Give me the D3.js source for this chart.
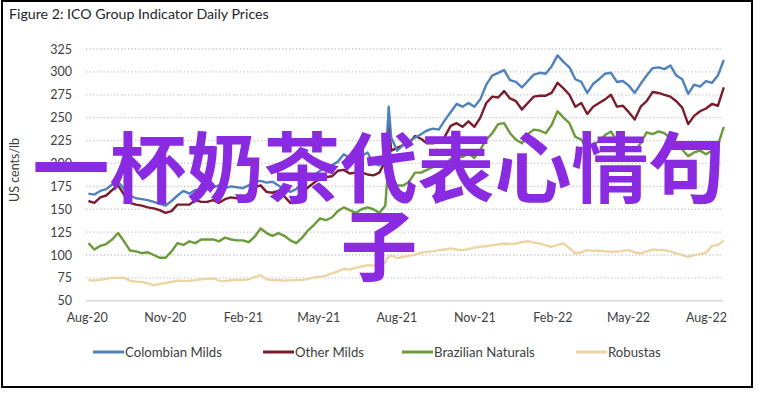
<!DOCTYPE html>
<html><head><meta charset="utf-8">
<script src="https://cdn.jsdelivr.net/npm/d3@7/dist/d3.min.js"></script>
<style>body{margin:0;background:#fff}svg{display:block}</style>
</head><body><svg id="c" width="758" height="393"></svg>
<script>
const dates = [
"2020-08-03","2020-08-10","2020-08-17","2020-08-24","2020-08-31","2020-09-07","2020-09-14","2020-09-21","2020-09-28","2020-10-05",
"2020-10-12","2020-10-19","2020-10-26","2020-11-02","2020-11-09","2020-11-16","2020-11-23","2020-11-30","2020-12-07","2020-12-14",
"2020-12-21","2020-12-28","2021-01-04","2021-01-11","2021-01-18","2021-01-25","2021-02-01","2021-02-08","2021-02-15","2021-02-22",
"2021-03-01","2021-03-08","2021-03-15","2021-03-22","2021-03-29","2021-04-05","2021-04-12","2021-04-19","2021-04-26","2021-05-03",
"2021-05-10","2021-05-17","2021-05-24","2021-05-31","2021-06-07","2021-06-14","2021-06-21","2021-06-28","2021-07-05","2021-07-12",
"2021-07-19","2021-07-21","2021-07-23",
"2021-07-26","2021-08-02","2021-08-09","2021-08-16","2021-08-23","2021-08-30","2021-09-06","2021-09-13","2021-09-20",
"2021-09-27","2021-10-04","2021-10-11","2021-10-18","2021-10-25","2021-11-01","2021-11-08","2021-11-15","2021-11-22","2021-11-29",
"2021-12-06","2021-12-13","2021-12-20","2021-12-27","2022-01-03","2022-01-10","2022-01-17","2022-01-24","2022-01-31","2022-02-07",
"2022-02-14","2022-02-21","2022-02-28","2022-03-07","2022-03-14","2022-03-21","2022-03-28","2022-04-04","2022-04-11","2022-04-18",
"2022-04-25","2022-05-02","2022-05-09","2022-05-16","2022-05-23","2022-05-30","2022-06-06","2022-06-13","2022-06-20","2022-06-27",
"2022-07-04","2022-07-11","2022-07-18","2022-07-25","2022-08-01","2022-08-08","2022-08-15","2022-08-22"];

const colombianMilds = [
167,166,170,172,177,180,172,165,162,161,
160,158,156,154,159,165,170,167,171,170,
172,174,176,173,175,174,173,176,180,181,
179,180,176,172,169,172,178,183,187,192,
196,198,202,210,206,204,208,212,200,198,
202,230,262,
228,214,220,224,228,232,236,238,237,
247,256,265,262,266,262,270,286,296,299,
302,291,289,283,290,297,299,298,306,318,
311,305,292,289,277,287,292,298,299,289,
290,285,277,287,296,304,305,303,307,296,
292,276,286,284,290,288,296,313];

const otherMilds = [
159,157,163,165,171,176,166,157,155,154,
152,151,149,146,148,155,155,155,160,158,
158,160,157,161,163,162,164,166,174,176,
169,168,170,164,157,163,168,174,179,184,
185,186,192,193,189,190,190,188,187,190,
203,225,244,
214,217,220,222,230,227,222,222,224,
229,241,244,240,246,240,250,266,273,272,
279,271,268,259,266,273,274,274,277,288,
282,275,262,266,254,262,266,270,275,262,
263,256,248,262,268,278,277,275,273,268,
261,243,252,257,260,265,263,283];

const brazilianNaturals = [
113,106,110,112,117,124,115,105,104,102,
103,100,97,97,104,113,111,115,113,117,
117,117,115,119,117,116,116,114,120,129,
124,121,124,121,116,113,119,127,133,140,
138,141,148,152,149,146,150,152,150,146,
154,180,198,
184,176,176,180,190,190,193,196,200,
198,205,210,207,211,206,215,226,233,243,
244,233,226,222,232,237,236,233,242,257,
250,244,229,226,216,221,224,231,235,224,
218,214,214,222,234,232,235,233,227,222,
215,208,212,214,210,214,220,240];

const robustas = [
72.6,72,73,74,75,75,75,72,71,70.5,
69,67,68.5,69.5,70.5,72,71.5,72,72.5,73.5,
74,74.4,72,71.5,72.5,73,72.6,73.5,76,78,
73.5,72.6,72.5,72,72.3,72.6,73,74,75.5,76.2,
77.5,79.9,82,85,84,86,87.5,89,88.5,89,
92,96,98,
99.5,96.5,98,99,100.5,102.5,103.5,104,105.3,
106,107.2,106,105.3,106.5,108,109,109.5,110.8,111.5,
112.6,112,112.6,114,115,113.5,112.6,110.5,109,111,
112.6,107.5,101.7,103,105.3,104.5,104.6,104,103.5,103.5,
104.5,105.3,103,101.7,104,106,105.5,105.3,104,101.7,
100,98,99.9,101,102.5,110,111,116];

const seriesNames = ["Colombian Milds","Other Milds","Brazilian Naturals","Robustas"];
const seriesColors = ["#4F81BD","#7B1C2C","#6A9A3A","#EDD4A4"];
const yTicks = [50,75,100,125,150,175,200,225,250,275,300,325];
const xTickDates = ["2020-08-01","2020-11-01","2021-02-01","2021-05-01","2021-08-01","2021-11-01","2022-02-01","2022-05-01","2022-08-01"];
const titleText = "Figure 2: ICO Group Indicator Daily Prices";
const yAxisTitle = "US cents/lb";
const overlayLines = ["一杯奶茶代表心情句","子"];

const parse = d3.timeParse("%Y-%m-%d");
const allSeries = [colombianMilds, otherMilds, brazilianNaturals, robustas];
const svg = d3.select("#c");
const font = "Lato, 'Open Sans', sans-serif";

// frame
svg.append("rect").attr("x",2).attr("y",1).attr("width",750).attr("height",386)
  .attr("fill","#fff").attr("stroke","#000").attr("stroke-width",2);

svg.append("text").attr("x",9).attr("y",19).attr("font-family",font).attr("font-size",14.2)
  .attr("fill","#262626").text(titleText);

const x = d3.scaleTime().domain([parse("2020-08-01"), parse("2022-08-01")]).range([86.7, 706]);
const y = d3.scaleLinear().domain([50,325]).range([300.8, 49]);
const plotL = 86, plotR = 723;

// gridlines
const grid = svg.append("g");
grid.selectAll("line").data(yTicks.filter(t => t > 50)).join("line")
  .attr("x1", plotL).attr("x2", plotR)
  .attr("y1", d => y(d)).attr("y2", d => y(d))
  .attr("stroke","#c8c8c8").attr("stroke-width",1.3).attr("stroke-dasharray","1.3,2.2");

// y axis labels
const yAxis = d3.axisLeft(y).tickValues(yTicks).tickSize(0).tickPadding(0);
const ya = svg.append("g").attr("transform","translate(72,0)").call(yAxis);
ya.select(".domain").remove();
ya.selectAll("text").attr("font-family",font).attr("font-size",12.5).attr("fill","#404040");

// x axis line
svg.append("line").attr("x1",plotL).attr("x2",plotR).attr("y1",y(50)).attr("y2",y(50))
  .attr("stroke","#d9d9d9").attr("stroke-width",1.5);

const xAxis = d3.axisBottom(x).tickValues(xTickDates.map(parse)).tickFormat(d3.timeFormat("%b-%y")).tickSize(0).tickPadding(0);
const xa = svg.append("g").attr("transform","translate(0,313)").call(xAxis);
xa.select(".domain").remove();
xa.selectAll("text").attr("font-family",font).attr("font-size",12.5).attr("fill","#404040");

svg.append("text").attr("transform","translate(19,170) rotate(-90)").attr("text-anchor","middle")
  .attr("font-family",font).attr("font-size",12.5).attr("fill","#404040").text(yAxisTitle);

// lines
const line = d3.line().x((d,i) => x(parse(dates[i]))).y(d => y(d));
svg.append("g").selectAll("path").data(allSeries.map((s,i)=>({s,i})).reverse()).join("path")
  .attr("d", d => line(d.s)).attr("fill","none").attr("stroke", d => seriesColors[d.i])
  .attr("stroke-width",2.4).attr("stroke-linejoin","round");

// legend
const legendX = [93, 263, 402, 576];
const lg = svg.append("g");
seriesNames.forEach((n,i) => {
  lg.append("line").attr("x1",legendX[i]).attr("x2",legendX[i]+31).attr("y1",352).attr("y2",352)
    .attr("stroke",seriesColors[i]).attr("stroke-width",3);
  lg.append("text").attr("x",legendX[i]+32).attr("y",356.5).attr("font-family",font).attr("font-size",13.2)
    .attr("fill","#404040").text(n);
});

// overlay text
const ov = svg.append("text").attr("text-anchor","middle").attr("font-family","'Noto Sans CJK SC', sans-serif")
  .attr("font-size",77).attr("font-weight",700).attr("fill","#8A2BE2");
overlayLines.forEach((t,i) => ov.append("tspan").attr("x",379).attr("y",197 + i*78).text(t));
</script></body></html>
